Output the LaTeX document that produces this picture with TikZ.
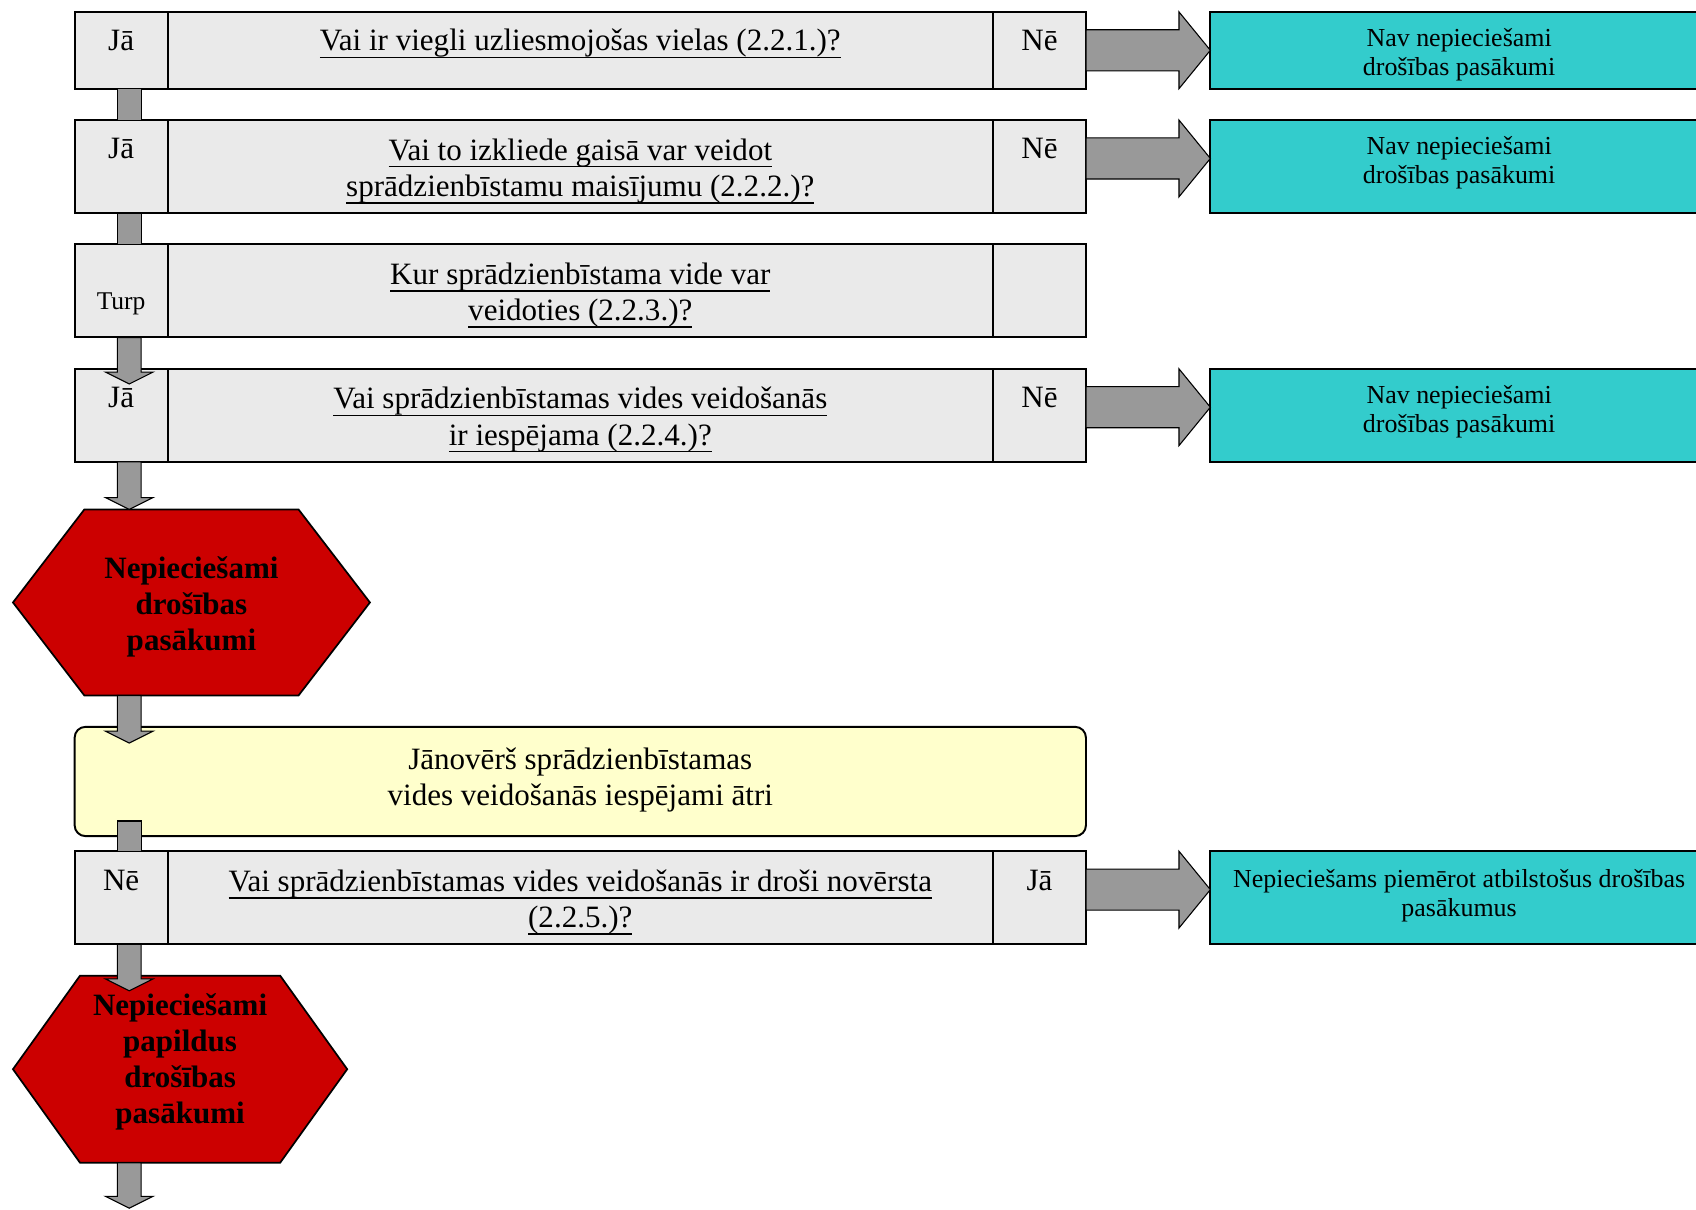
\documentclass[tikz,border=0pt]{standalone}
\usepackage{fontspec}
\setmainfont{Liberation Serif}
\usetikzlibrary{calc}
\definecolor{rowgray}{RGB}{234,234,234}
\definecolor{arrgray}{RGB}{153,153,153}
\definecolor{tealbox}{RGB}{51,204,204}
\definecolor{redhex}{RGB}{204,0,0}
\definecolor{yellowbox}{RGB}{255,255,204}
\newcommand\myul[1]{\setbox0\hbox{#1}\rlap{\rule[-3.4pt]{\wd0}{0.75pt}}\box0}
\newcommand\vblock[2]{\draw[arrowstyle] ($(#1)+(-11,0)$) -- ($(#2)+(-11,-11)$) -- ($(#2)+(-22,-11)$) -- (#2) -- ($(#2)+(22,-11)$) -- ($(#2)+(11,-11)$) -- ($(#1)+(11,0)$) -- cycle;}
\newcommand\hblock[2]{\draw[arrowstyle] ($(#1.north east)+(0,16.5)$) -- ($(#2.north west)+(-29,16.5)$) -- ($(#2.north west)+(-29,0)$) -- ($(#2.north west)+(0,35.5)$) -- ($(#2.north west)+(-29,71)$) -- ($(#2.north west)+(-29,54.5)$) -- ($(#1.north east)+(0,54.5)$) -- cycle;}
\tikzset{
  cellbase/.style={draw, fill=rowgray, line width=0.9pt, inner sep=0pt, outer sep=0pt, anchor=north west},
  cellL/.style={cellbase, minimum width=43pt},
  cellM/.style={cellbase, minimum width=381.5pt},
  cellR/.style={cellbase, minimum width=43pt},
  tbox/.style={draw, fill=tealbox, line width=0.9pt, inner sep=0pt, outer sep=0pt, anchor=north west, minimum width=230pt},
  arrowstyle/.style={draw=black, fill=arrgray, line width=0.5pt, line join=miter},
  hexnode/.style={inner sep=0pt, outer sep=0pt},
  hexshape/.style={draw=black, fill=redhex, line width=0.8pt},
  lbl/.style={font=\fontsize{14.35}{16.75}\selectfont, anchor=base, inner sep=0pt},
  q/.style={font=\fontsize{14.35}{16.75}\selectfont, align=center, anchor=base, inner sep=0pt},
  small/.style={font=\fontsize{11.8}{13}\selectfont, anchor=base, inner sep=0pt},
  ttext/.style={font=\fontsize{12}{13.4}\selectfont, align=center, anchor=base, inner sep=0pt},
  htext/.style={font=\fontsize{14.35}{16.65}\selectfont\bfseries, align=center, inner sep=0pt},
}
\begin{document}
\begin{tikzpicture}[x=0.5pt,y=-0.5pt]
\useasboundingbox (0,0) rectangle (1568,1118);

% rows
\node[cellL, minimum height=35.5pt] (r1a) at (69,11) {};
\node[cellM, minimum height=35.5pt] (r1b) at (155,11) {};
\node[cellR, minimum height=35.5pt] (r1c) at (918,11) {};
\node[cellL, minimum height=43pt] (r2a) at (69,111) {};
\node[cellM, minimum height=43pt] (r2b) at (155,111) {};
\node[cellR, minimum height=43pt] (r2c) at (918,111) {};
\node[cellL, minimum height=43pt] (r3a) at (69,226) {};
\node[cellM, minimum height=43pt] (r3b) at (155,226) {};
\node[cellR, minimum height=43pt] (r3c) at (918,226) {};
\node[cellL, minimum height=43pt] (r4a) at (69,341) {};
\node[cellM, minimum height=43pt] (r4b) at (155,341) {};
\node[cellR, minimum height=43pt] (r4c) at (918,341) {};
\node[cellL, minimum height=43pt] (r5a) at (69,787) {};
\node[cellM, minimum height=43pt] (r5b) at (155,787) {};
\node[cellR, minimum height=43pt] (r5c) at (918,787) {};

% teal boxes
\node[tbox, minimum height=35.5pt] (t1) at (1119,11) {};
\node[tbox, minimum height=43pt] (t2) at (1119,111) {};
\node[tbox, minimum height=43pt] (t4) at (1119,341) {};
\node[tbox, minimum height=43pt] (t5) at (1119,787) {};

% yellow box
\node[draw, fill=yellowbox, line width=0.9pt, rounded corners=5pt, inner sep=0pt, outer sep=0pt, anchor=north west, minimum width=467.5pt, minimum height=50.5pt] (y) at (69,672) {};

% hexagons
\node[hexnode, minimum width=165pt, minimum height=86pt] (h1) at (177,557) {};
\draw[hexshape] (h1.west) -- ($(h1.north west)+(66,0)$) -- ($(h1.north east)+(-66,0)$) -- (h1.east) -- ($(h1.south east)+(-66,0)$) -- ($(h1.south west)+(66,0)$) -- cycle;
\node[hexnode, minimum width=154.5pt, minimum height=86.5pt] (h2) at (166.5,988.5) {};
\draw[hexshape] (h2.west) -- ($(h2.north west)+(62,0)$) -- ($(h2.north east)+(-62,0)$) -- (h2.east) -- ($(h2.south east)+(-62,0)$) -- ($(h2.south west)+(62,0)$) -- cycle;

% vertical connectors
\draw[arrowstyle] ($(r1a.south west)+(39.5,0)$) rectangle ($(r2a.north west)+(61.5,0)$);
\draw[arrowstyle] ($(r2a.south west)+(39.5,0)$) rectangle ($(r3a.north west)+(61.5,0)$);
\coordinate (a3s) at ($(r3a.south west)+(50.5,0)$);
\coordinate (a3e) at ($(r4a.north west)+(50.5,14)$);
\vblock{a3s}{a3e}
\coordinate (a4s) at ($(r4a.south west)+(50.5,0)$);
\coordinate (a4e) at ($(h1.north west)+(107.5,0)$);
\vblock{a4s}{a4e}
\coordinate (a5s) at ($(h1.south west)+(107.5,0)$);
\coordinate (a5e) at ($(y.north west)+(50.5,15)$);
\vblock{a5s}{a5e}
\draw[arrowstyle] ($(y.south west)+(39.5,-14)$) rectangle ($(r5a.north west)+(61.5,0)$);
\coordinate (a7s) at ($(r5a.south west)+(50.5,0)$);
\coordinate (a7e) at ($(h2.north west)+(107.5,14)$);
\vblock{a7s}{a7e}
\coordinate (a8s) at ($(h2.south west)+(107.5,0)$);
\coordinate (end) at (119.5,1117);
\vblock{a8s}{end}

% horizontal block arrows
\hblock{r1c}{t1}
\hblock{r2c}{t2}
\hblock{r4c}{t4}
\hblock{r5c}{t5}

% texts (multi-line nodes: base = last line baseline)
\node[lbl] at ($(r1a.north)+(0,36)$) {Jā};
\node[q] at ($(r1b.north)+(0,36)$) {\myul{Vai ir viegli uzliesmojošas vielas (2.2.1.)?}};
\node[lbl] at ($(r1c.north)+(0,36)$) {Nē};

\node[lbl] at ($(r2a.north)+(0,36)$) {Jā};
\node[q] at ($(r2b.north)+(0,70.5)$) {\myul{Vai to izkliede gaisā var veidot}\\\myul{sprādzienbīstamu maisījumu (2.2.2.)?}};
\node[lbl] at ($(r2c.north)+(0,36)$) {Nē};

\node[small] at ($(r3a.north)+(0,60)$) {Turp};
\node[q] at ($(r3b.north)+(0,70.5)$) {\myul{Kur sprādzienbīstama vide var}\\\myul{veidoties (2.2.3.)?}};

\node[lbl] at ($(r4a.north)+(0,36)$) {Jā};
\node[q] at ($(r4b.north)+(0,70.5)$) {\myul{Vai sprādzienbīstamas vides veidošanās}\\\myul{ir iespējama (2.2.4.)?}};
\node[lbl] at ($(r4c.north)+(0,36)$) {Nē};

\node[lbl] at ($(r5a.north)+(0,36)$) {Nē};
\node[q] at ($(r5b.north)+(0,70.5)$) {\myul{Vai sprādzienbīstamas vides veidošanās ir droši novērsta}\\\myul{(2.2.5.)?}};
\node[lbl] at ($(r5c.north)+(0,36)$) {Jā};

\node[q] at ($(y.north)+(0,73)$) {Jānovērš sprādzienbīstamas\\vides veidošanās iespējami ātri};

\node[ttext] at ($(t1.north west)+(230,59)$) {Nav nepieciešami\\drošības pasākumi};
\node[ttext] at ($(t2.north west)+(230,59)$) {Nav nepieciešami\\drošības pasākumi};
\node[ttext] at ($(t4.north west)+(230,59)$) {Nav nepieciešami\\drošības pasākumi};
\node[ttext] at ($(t5.north west)+(230,60)$) {Nepieciešams piemērot atbilstošus drošības\\pasākumus};

\node[htext] at ($(h1)+(0,4)$) {Nepieciešami\\drošības\\pasākumi};
\node[htext] at ($(h2)+(0,-6.5)$) {Nepieciešami\\papildus\\drošības\\pasākumi};
\end{tikzpicture}
\end{document}
